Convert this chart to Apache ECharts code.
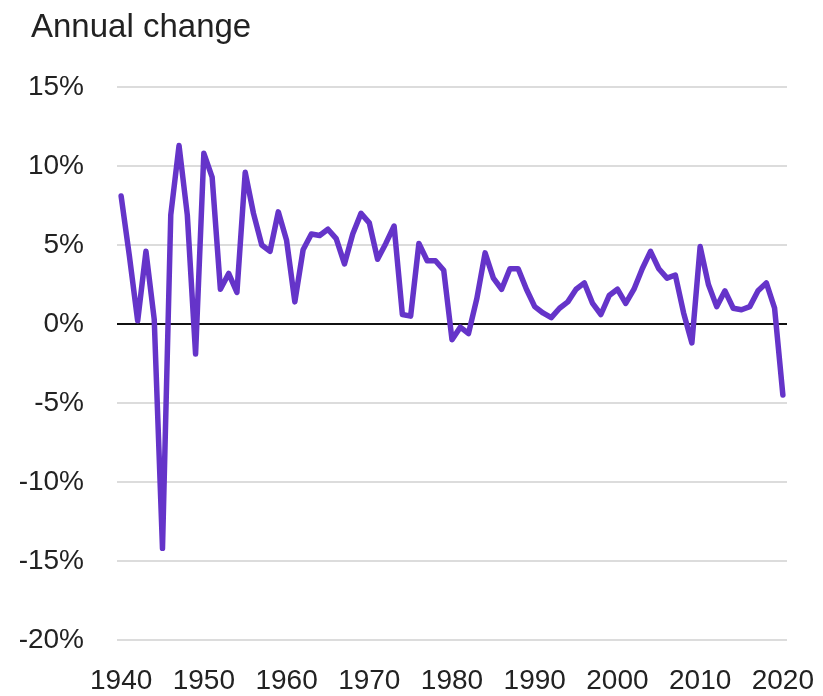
<!DOCTYPE html>
<html>
<head>
<meta charset="utf-8">
<script src="https://cdn.jsdelivr.net/npm/echarts@6/dist/echarts.min.js"></script>
<style>
  html, body { margin: 0; padding: 0; background: #fff; }
  #chart { width: 823px; height: 696px; }
</style>
</head>
<body>
<div id="chart"></div>
<script>
// years 1940..2020
const years = []
for (let y = 1940; y <= 2020; y++) years.push(String(y))

// annual change, %
const values = [
  8.1, 4.3, 0.2, 4.6, 0.3, -14.2, 6.9, 11.3, 6.9, -1.9,
  10.8, 9.3, 2.2, 3.2, 2.0, 9.6, 7.0, 5.0, 4.6, 7.1,
  5.3, 1.4, 4.7, 5.7, 5.6, 6.0, 5.4, 3.8, 5.7, 7.0,
  6.4, 4.1, 5.1, 6.2, 0.6, 0.5, 5.1, 4.0, 4.0, 3.4,
  -1.0, -0.2, -0.6, 1.6, 4.5, 2.9, 2.2, 3.5, 3.5, 2.2,
  1.1, 0.7, 0.4, 1.0, 1.4, 2.2, 2.6, 1.3, 0.6, 1.8,
  2.2, 1.3, 2.2, 3.5, 4.6, 3.5, 2.9, 3.1, 0.7, -1.2,
  4.9, 2.5, 1.1, 2.1, 1.0, 0.9, 1.1, 2.1, 2.6, 1.0,
  -4.5
]

const yTicks = [-20, -15, -10, -5, 0, 5, 10, 15]

let myChart = echarts.init(document.getElementById('chart'))
myChart.setOption({
    animation: false,
    title: {
        text: 'Annual change',
        left: 26,
        top: 6,
        textStyle: {
            fontFamily: 'Liberation Sans',
            fontSize: 33,
            fontWeight: 'normal',
            color: '#222'
        }
    },
    grid: {
        left: 117,
        right: 36,
        top: 87,
        bottom: 56
    },
    xAxis: {
        type: 'category',
        data: years,
        boundaryGap: true,
        axisLine: {show: false},
        axisTick: {show: false},
        splitLine: {show: false},
        axisLabel: {
            interval: 9,
            margin: 27,
            fontFamily: 'Liberation Sans',
            fontSize: 28,
            color: '#222'
        }
    },
    yAxis: {
        type: 'value',
        min: -20,
        max: 15,
        interval: 5,
        axisLine: {show: false},
        axisTick: {show: false},
        axisLabel: {
            margin: 33,
            fontFamily: 'Liberation Sans',
            fontSize: 28,
            color: '#222',
            formatter: v => v + '%'
        },
        splitLine: {
            lineStyle: {
                width: 2,
                color: yTicks.map(v => v === 0 ? '#111' : '#dcdcdc')
            }
        }
    },
    series: [
        {
            type: 'line',
            data: values,
            symbol: 'none',
            lineStyle: {
                color: '#6534c9',
                width: 5.5,
                join: 'round',
                cap: 'round'
            }
        }
    ]
})
</script>
</body>
</html>
